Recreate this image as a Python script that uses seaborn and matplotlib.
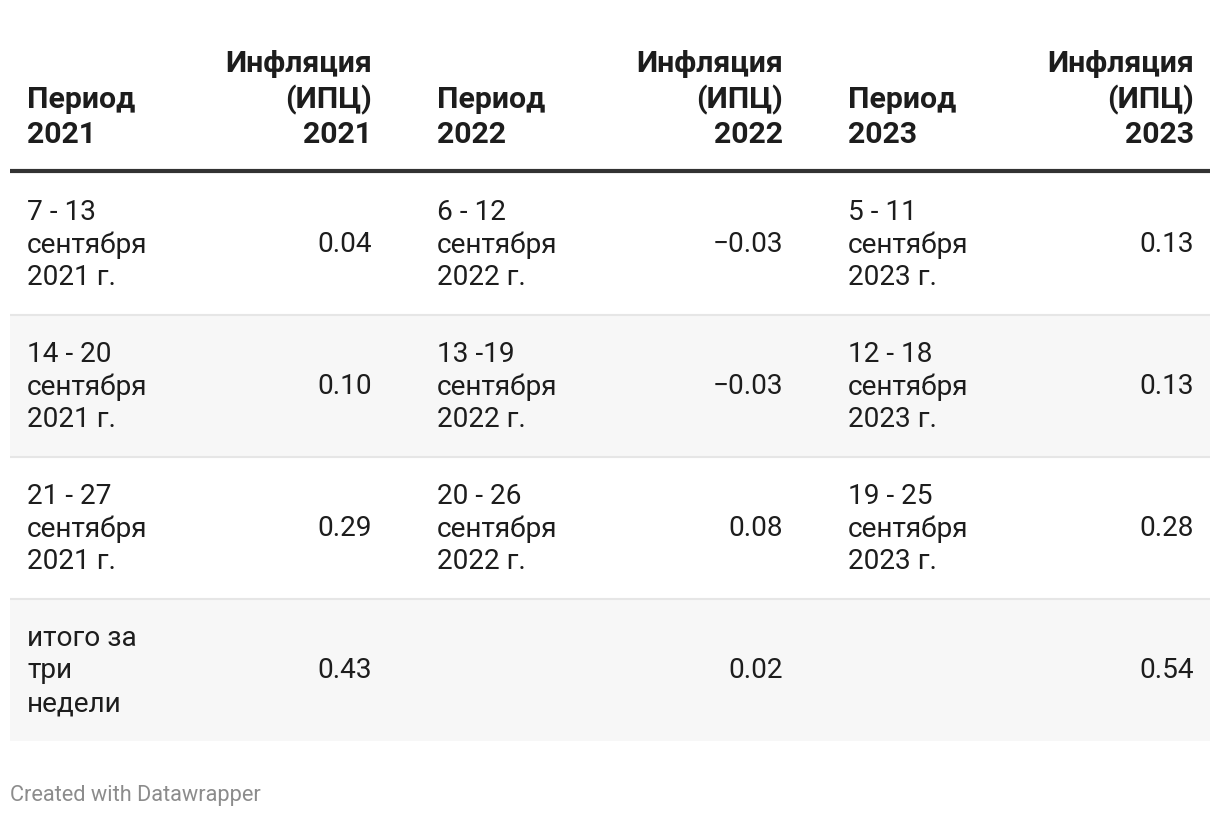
import matplotlib
matplotlib.use("Agg")
import matplotlib.pyplot as plt
import seaborn as sns

# данные таблицы
years = ["2021", "2022", "2023"]
periods_2021 = ["7 - 13\nсентября\n2021 г.", "14 - 20\nсентября\n2021 г.",
                "21 - 27\nсентября\n2021 г.", "итого за\nтри\nнедели"]
periods_2022 = ["6 - 12\nсентября\n2022 г.", "13 -19\nсентября\n2022 г.",
                "20 - 26\nсентября\n2022 г.", ""]
periods_2023 = ["5 - 11\nсентября\n2023 г.", "12 - 18\nсентября\n2023 г.",
                "19 - 25\nсентября\n2023 г.", ""]
cpi_2021 = [0.04, 0.10, 0.29, 0.43]
cpi_2022 = [-0.03, -0.03, 0.08, 0.02]
cpi_2023 = [0.13, 0.13, 0.28, 0.54]
footer = "Created with Datawrapper"

sns.set_theme(style="white")
plt.rcParams['font.family'] = ['Roboto', 'DejaVu Sans']

W, H = 1220, 818
fig = plt.figure(figsize=(W / 100, H / 100), dpi=100)
ax = fig.add_axes([0, 0, 1, 1])
ax.set_xlim(0, W)
ax.set_ylim(H, 0)
ax.axis("off")

text_color = "#1d1d1d"
body_size = 20.2
head_size = 21.8

left_x = [27, 437, 848]
right_x = [372, 783, 1194]
row_top = 173
row_h = 142
n_rows = len(cpi_2021)

# фон строк
for i in range(n_rows):
    y0 = row_top + i * row_h
    if i % 2 == 1:
        ax.axhspan(y0, y0 + row_h, xmin=10 / W, xmax=1210 / W, color="#f7f7f7", lw=0, zorder=0)
    if i > 0:
        ax.plot([10, 1210], [y0, y0], color="#e6e6e6", lw=1.5, zorder=1, solid_capstyle="butt")

# линия под заголовком
ax.plot([10, 1210], [171, 171], color="#333333", lw=3, zorder=2, solid_capstyle="butt")


def draw_lines(x, yc, text, ha, size, weight, spacing):
    lines = text.split("\n")
    n = len(lines)
    for k, line in enumerate(lines):
        y = yc + (k - (n - 1) / 2) * spacing
        ax.text(x, y, line, ha=ha, va="center", fontsize=size, fontweight=weight, color=text_color)


# заголовки
for j, yr in enumerate(years):
    head_l = ["Период", yr]
    head_r = ["Инфляция", "(ИПЦ)", yr]
    for k, line in enumerate(reversed(head_l)):
        ax.text(left_x[j], 135 - k * 35.5, line, ha="left", va="center",
                fontsize=head_size, fontweight="bold", color=text_color)
    for k, line in enumerate(reversed(head_r)):
        ax.text(right_x[j], 135 - k * 35.5, line, ha="right", va="center",
                fontsize=head_size, fontweight="bold", color=text_color)

# тело таблицы
all_periods = [periods_2021, periods_2022, periods_2023]
all_cpi = [cpi_2021, cpi_2022, cpi_2023]
for j in range(3):
    for i in range(n_rows):
        yc = row_top + i * row_h + row_h / 2 + 1
        if all_periods[j][i]:
            draw_lines(left_x[j], yc, all_periods[j][i], "left", body_size, "normal", 32.5)
        val = f"{all_cpi[j][i]:.2f}".replace("-", "\u2212")
        ax.text(right_x[j], yc, val, ha="right", va="center", fontsize=body_size, color=text_color)

ax.text(10, 796, footer, ha="left", va="center", fontsize=15.7, color="#8c8c8c")

fig.savefig("out.png", dpi=100)
